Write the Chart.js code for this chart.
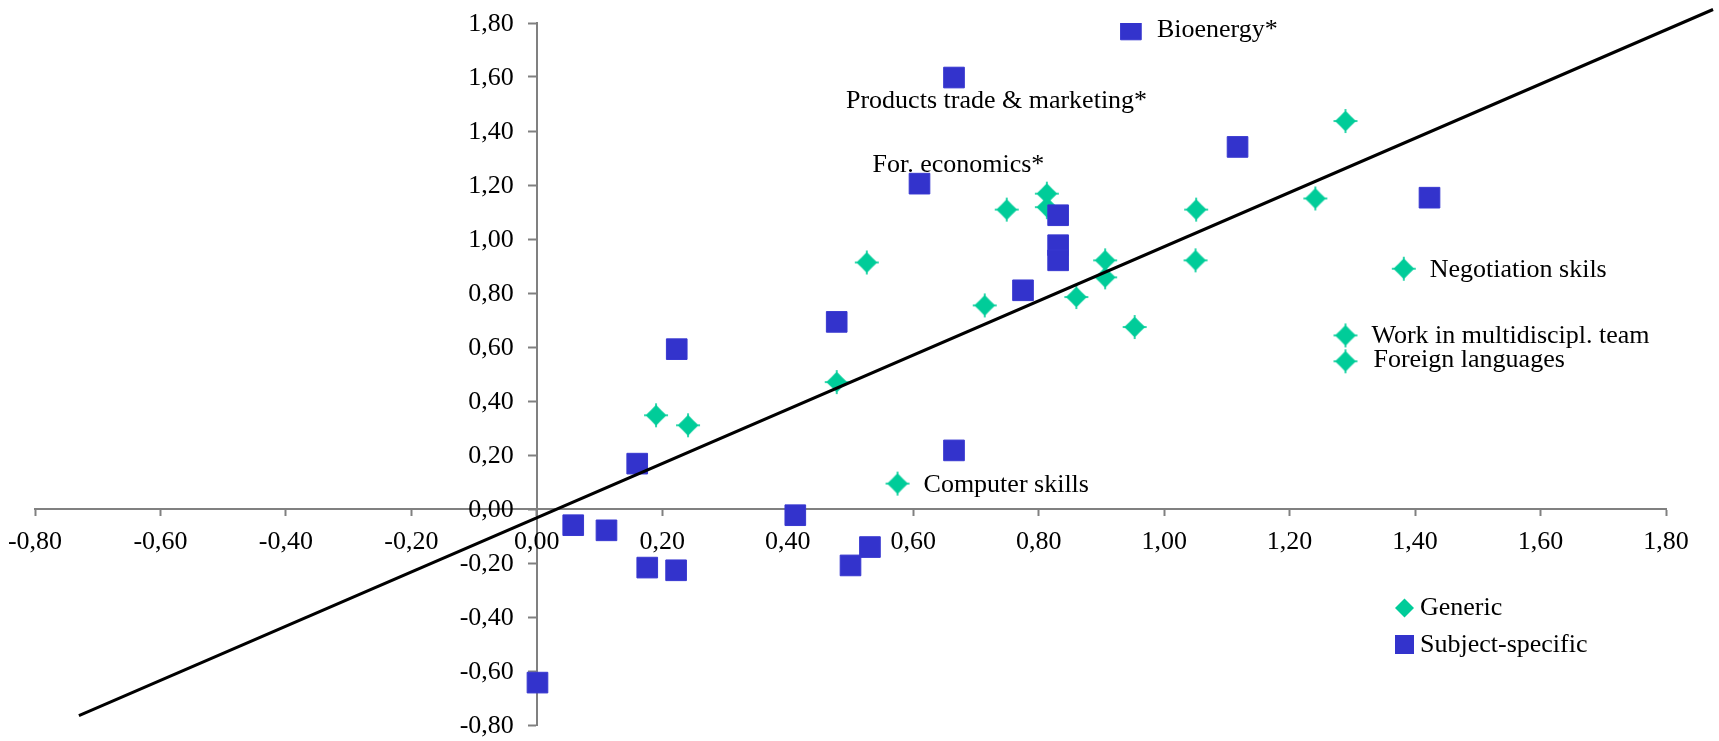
<!DOCTYPE html>
<html>
<head>
<meta charset="utf-8">
<script src="https://cdn.jsdelivr.net/npm/chart.js@4.4.0/dist/chart.umd.min.js"></script>
<style>
  html, body { margin: 0; padding: 0; background: #fff; }
</style>
</head>
<body>
<canvas id="myChart" width="1719" height="741"></canvas>
<script>
// Generic skills (green diamonds)
const genericX = [1.289, 0.749, 0.813, 0.813, 1.051, 1.241, 0.526, 0.906, 0.906, 1.05, 0.86, 0.953, 0.714, 0.478, 0.19, 0.241, 0.575, 1.382, 1.289, 1.289];
const genericY = [1.437, 1.109, 1.168, 1.118, 1.109, 1.15, 0.913, 0.921, 0.858, 0.921, 0.785, 0.674, 0.754, 0.47, 0.347, 0.31, 0.094, 0.89, 0.643, 0.547];
const genericNames = ['', '', '', '', '', '', '', '', '', '', '', '', '', '', '', '', 'Computer skills', 'Negotiation skils', 'Work in multidiscipl. team', 'Foreign languages'];

// Subject-specific skills (blue squares)
const subjectX = [0.947, 0.665, 0.61, 1.117, 1.423, 0.831, 0.831, 0.831, 0.775, 0.478, 0.223, 0.16, 0.665, 0.412, 0.058, 0.111, 0.176, 0.222, 0.531, 0.5, 0.001];
const subjectY = [1.776, 1.598, 1.205, 1.341, 1.153, 1.088, 0.977, 0.921, 0.81, 0.693, 0.592, 0.168, 0.217, -0.023, -0.06, -0.079, -0.217, -0.227, -0.141, -0.209, -0.643];
const subjectNames = ['Bioenergy*', 'Products trade & marketing*', 'For. economics*', '', '', '', '', '', '', '', '', '', '', '', '', '', '', '', '', '', ''];

// trend line end points
const trendX = [-0.73, 1.875];
const trendY = [-0.765, 1.85];

const seriesNames = ['Generic', 'Subject-specific'];
const axisMin = -0.8;
const axisMax = 1.8;
const axisStep = 0.2;

const GREEN = '#00CC99';
const BLUE = '#3333CC';
const FONT = '"Liberation Serif", "Times New Roman", serif';
const axisColor = '#808080';

// where each point label sits relative to its marker (pixels)
const labelOffsets = {
  'Bioenergy*': { dx: 26, dy: 1 },
  'Products trade & marketing*': { dx: -108, dy: 24 },
  'For. economics*': { dx: -47, dy: -18 },
  'Computer skills': { dx: 26, dy: 2 },
  'Negotiation skils': { dx: 26, dy: 1 },
  'Work in multidiscipl. team': { dx: 26, dy: 1 },
  'Foreign languages': { dx: 28, dy: -1 }
};

function toPoints(xs, ys) {
  return xs.map((x, i) => ({ x: x, y: ys[i] }));
}

function fmt(v) {
  if (Math.abs(v) < 1e-9) v = 0;
  return v.toFixed(2).replace('.', ',');
}

// diamond marker with small spurs at the tips, like the original
function makeStar() {
  const c = document.createElement('canvas');
  c.width = 26;
  c.height = 26;
  const g = c.getContext('2d');
  const cx = 13, cy = 13, r = 10.5, k = 5;
  g.fillStyle = GREEN;
  g.beginPath();
  g.moveTo(cx, cy - r);
  g.quadraticCurveTo(cx + k, cy - k, cx + r, cy);
  g.quadraticCurveTo(cx + k, cy + k, cx, cy + r);
  g.quadraticCurveTo(cx - k, cy + k, cx - r, cy);
  g.quadraticCurveTo(cx - k, cy - k, cx, cy - r);
  g.closePath();
  g.fill();
  // spurs
  g.fillRect(cx - 0.8, 1, 1.6, 24);
  g.fillRect(1, cy - 0.8, 24, 1.6);
  return c;
}
const star = makeStar();

// tick labels drawn next to the axes that cross at zero
const axisLabels = {
  id: 'axisLabels',
  afterDraw(chart) {
    const ctx = chart.ctx;
    const xs = chart.scales.x;
    const ys = chart.scales.y;
    const x0 = xs.getPixelForValue(0);
    const y0 = ys.getPixelForValue(0);
    ctx.save();
    ctx.font = '26px ' + FONT;
    ctx.fillStyle = '#000';
    ctx.textBaseline = 'middle';
    ctx.textAlign = 'right';
    ys.ticks.forEach((t) => {
      ctx.fillText(fmt(t.value), x0 - 23, ys.getPixelForValue(t.value) + 1.5);
    });
    ctx.textAlign = 'center';
    xs.ticks.forEach((t) => {
      ctx.fillText(fmt(t.value), xs.getPixelForValue(t.value), y0 + 33);
    });
    ctx.restore();
  }
};

const pointLabels = {
  id: 'pointLabels',
  afterDatasetsDraw(chart) {
    const ctx = chart.ctx;
    ctx.save();
    ctx.font = '26px ' + FONT;
    ctx.fillStyle = '#000';
    ctx.textAlign = 'left';
    ctx.textBaseline = 'middle';
    [[2, genericNames], [1, subjectNames]].forEach(([idx, names]) => {
      const meta = chart.getDatasetMeta(idx);
      meta.data.forEach((el, i) => {
        const name = names[i];
        if (!name) return;
        const off = labelOffsets[name] || { dx: 20, dy: 0 };
        ctx.fillText(name, el.x + off.dx, el.y + off.dy);
      });
    });
    ctx.restore();
  }
};

const customLegend = {
  id: 'customLegend',
  afterDraw(chart) {
    const ctx = chart.ctx;
    ctx.save();
    // Generic
    ctx.fillStyle = GREEN;
    ctx.beginPath();
    ctx.moveTo(1404.5, 598.5);
    ctx.lineTo(1414, 608);
    ctx.lineTo(1404.5, 617.5);
    ctx.lineTo(1395, 608);
    ctx.closePath();
    ctx.fill();
    // Subject-specific
    ctx.fillStyle = BLUE;
    ctx.fillRect(1395, 635, 19, 19);

    ctx.font = '26px ' + FONT;
    ctx.fillStyle = '#000';
    ctx.textAlign = 'left';
    ctx.textBaseline = 'middle';
    ctx.fillText(seriesNames[0], 1420, 608);
    ctx.fillText(seriesNames[1], 1420, 645);
    ctx.restore();
  }
};

new Chart(document.getElementById('myChart'), {
  type: 'scatter',
  data: {
    datasets: [
      {
        label: 'trend',
        data: toPoints(trendX, trendY),
        showLine: true,
        borderColor: '#000',
        borderWidth: 3,
        pointRadius: 0,
        fill: false,
        clip: false,
        order: 0
      },
      {
        label: seriesNames[1],
        data: toPoints(subjectX, subjectY),
        pointStyle: 'rect',
        pointRadius: 14.6,
        backgroundColor: BLUE,
        borderColor: '#3838D0',
        borderWidth: 1,
        order: 1
      },
      {
        label: seriesNames[0],
        data: toPoints(genericX, genericY),
        pointStyle: star,
        backgroundColor: GREEN,
        borderColor: GREEN,
        order: 2
      }
    ]
  },
  options: {
    responsive: false,
    animation: false,
    layout: { padding: { left: 35, right: 53, top: 23, bottom: 16 } },
    plugins: {
      legend: { display: false },
      tooltip: { enabled: false }
    },
    scales: {
      x: {
        type: 'linear',
        position: { y: 0 },
        min: axisMin,
        max: axisMax,
        border: { display: true, color: axisColor, width: 2 },
        grid: { display: true, drawOnChartArea: false, drawTicks: true, tickLength: 6, tickColor: axisColor, tickWidth: 2 },
        ticks: { display: false, stepSize: axisStep, autoSkip: false }
      },
      y: {
        type: 'linear',
        position: { x: 0 },
        min: axisMin,
        max: axisMax,
        border: { display: true, color: axisColor, width: 2 },
        grid: { display: true, drawOnChartArea: false, drawTicks: true, tickLength: 8, tickColor: axisColor, tickWidth: 2 },
        ticks: { display: false, stepSize: axisStep, autoSkip: false }
      }
    }
  },
  plugins: [axisLabels, pointLabels, customLegend]
});
</script>
</body>
</html>
